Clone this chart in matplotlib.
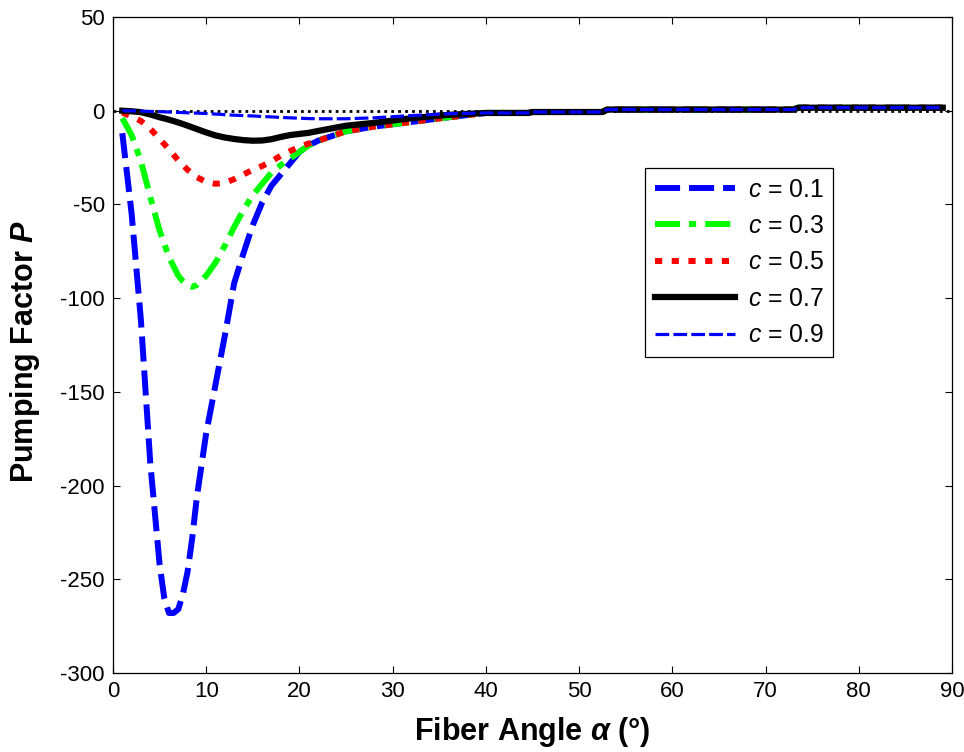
import matplotlib
matplotlib.use('Agg')
import matplotlib.pyplot as plt

plt.rcParams['font.family'] = ['Liberation Sans', 'DejaVu Sans']
plt.rcParams['mathtext.fontset'] = 'custom'
plt.rcParams['mathtext.rm'] = 'Liberation Sans'
plt.rcParams['mathtext.it'] = 'Liberation Sans:italic'
plt.rcParams['mathtext.bf'] = 'Liberation Sans:bold'
plt.rcParams['mathtext.bfit'] = 'Liberation Sans:italic:bold'
plt.rcParams['axes.unicode_minus'] = False

# fiber angle (deg), shared by all curves
alpha = [1, 2, 3, 4, 5, 5.5, 6, 6.5, 7, 7.5, 8, 8.5, 9, 10, 11, 12, 13, 14, 15, 16,
         17, 18, 19, 20, 21, 22, 25, 28, 32, 36, 40, 44.5, 45, 52.5, 53, 73, 73.5, 89]

# tail shared by every curve once they come together
tail = [-1.2, -1.2, -0.7, -0.7, 0.6, 0.6, 1.6, 1.6]

p_01 = [-12, -55, -112, -188, -242, -260, -268, -268, -266, -258, -246, -228, -206, -172,
        -146, -120, -92, -76, -61, -49, -40, -34, -28, -22, -18.5, -16, -11, -8.5, -6, -3.5] + tail
p_03 = [-4, -13, -27, -46, -64, -71, -78, -83, -88, -91, -93, -94, -93, -88, -81, -72, -62,
        -53, -45, -39, -33, -29, -25.5, -22, -18.5, -16, -11, -8.5, -6, -3.5] + tail
p_05 = [-1, -3, -5.5, -9.7, -15, -17.8, -20.5, -23.5, -26.5, -29, -31.5, -33.5, -35.5, -38,
        -39, -38.5, -36.5, -34, -31.5, -29.5, -27, -24, -21.5, -19.3, -17.5, -16, -11, -8.5,
        -6, -3.5] + tail
p_07 = [0, -0.3, -0.8, -2, -3.5, -4.1, -4.8, -5.5, -6.3, -7.1, -8, -8.9, -9.8, -11.6, -13.2,
        -14.3, -15.1, -15.7, -16, -15.9, -15.2, -14, -13, -12.4, -11.8, -10.8, -8, -6.5, -4,
        -2.2] + tail
p_09 = [0, -0.1, -0.2, -0.4, -0.5, -0.6, -0.7, -0.8, -0.9, -1.0, -1.1, -1.2, -1.3, -1.5, -1.8,
        -2.1, -2.4, -2.6, -2.8, -3.1, -3.3, -3.6, -3.8, -4.0, -4.2, -4.3, -4.3, -3.8, -2.6,
        -1.6] + tail

labels = ['$c$ = 0.1', '$c$ = 0.3', '$c$ = 0.5', '$c$ = 0.7', '$c$ = 0.9']

fig = plt.figure(figsize=(9.64, 7.52), dpi=100)
ax = fig.add_axes([0.1172, 0.1051, 0.8704, 0.8723])

ax.plot([0, 90], [0, 0], color='k', lw=2, linestyle=(0, (1, 1.5)))
ax.plot(alpha, p_01, color='#0000ff', lw=4.3, linestyle=(0, (4.2, 1.5)), label=labels[0])
ax.plot(alpha, p_03, color='#00ff00', lw=4.3, linestyle=(0, (4.2, 1.5, 1.2, 1.5)), label=labels[1])
ax.plot(alpha, p_05, color='#ff0000', lw=4.3, linestyle=(0, (1.2, 1.6)), label=labels[2])
ax.plot(alpha, p_07, color='k', lw=4.5, label=labels[3])
ax.plot(alpha, p_09, color='#0000ff', lw=2.3, linestyle=(0, (4.3, 1.3)), label=labels[4])

ax.set_xlim(0, 90)
ax.set_ylim(-300, 50)
ax.set_xticks(range(0, 91, 10))
ax.set_yticks(range(-300, 51, 50))
ax.tick_params(direction='in', top=True, right=True, length=5, width=0.8,
               labelsize=16, pad=6)
for s in ax.spines.values():
    s.set_linewidth(0.9)

ax.set_xlabel(r'Fiber Angle $\mathbfit{\alpha}$ (°)', fontsize=22, fontweight='bold', labelpad=9)
ax.set_ylabel(r'Pumping Factor $\mathbfit{P}$', fontsize=22, fontweight='bold')
ax.yaxis.set_label_coords(-0.085, 0.49)

leg = ax.legend(loc='upper left', bbox_to_anchor=(0.634, 0.770), borderaxespad=0,
                fontsize=17.8, handlelength=3.25, handletextpad=0.5, labelspacing=0.5,
                borderpad=0.4, fancybox=False, framealpha=1, edgecolor='k')
leg.get_frame().set_linewidth(0.9)

fig.savefig('out.png', dpi=100)
